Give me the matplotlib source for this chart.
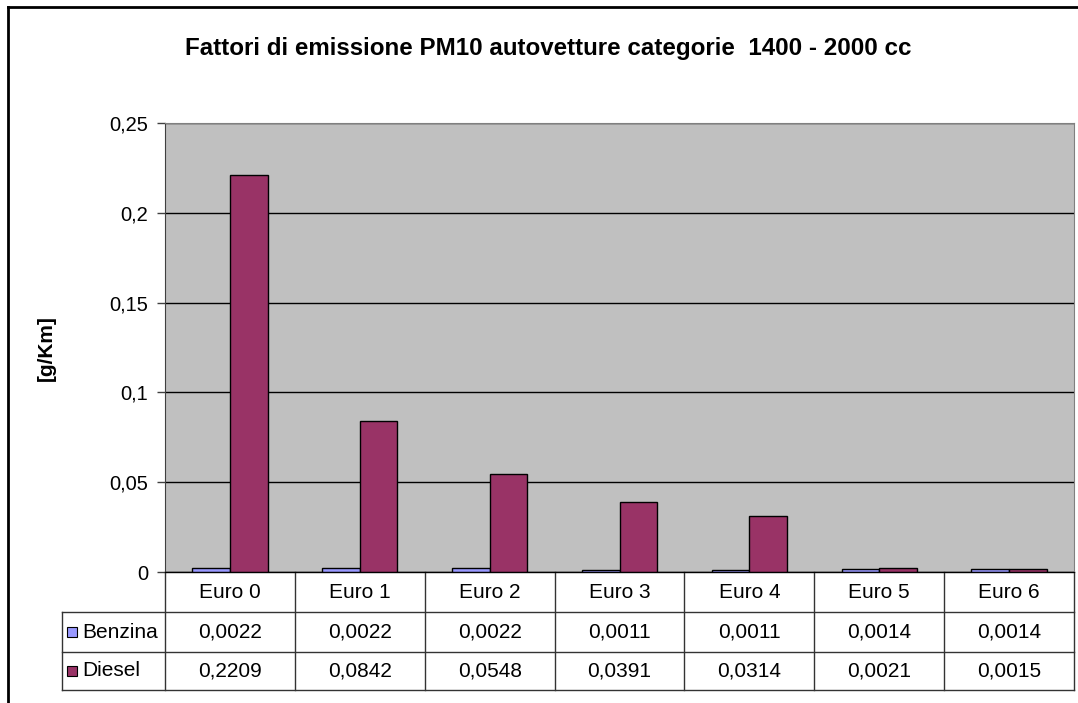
import matplotlib.pyplot as plt
from matplotlib.lines import Line2D
from matplotlib.patches import Rectangle
import matplotlib.transforms as mtransforms
import numpy as np

# dati del grafico
categorie = ["Euro 0", "Euro 1", "Euro 2", "Euro 3", "Euro 4", "Euro 5", "Euro 6"]
serie = ["Benzina", "Diesel"]
benzina = [0.0022, 0.0022, 0.0022, 0.0011, 0.0011, 0.0014, 0.0014]
diesel = [0.2209, 0.0842, 0.0548, 0.0391, 0.0314, 0.0021, 0.0015]
colori = ["#9999FF", "#993366"]
tick_y = [0, 0.05, 0.1, 0.15, 0.2, 0.25]


def virgola(v, dec):
    return (("%." + str(dec) + "f") % v).replace(".", ",")


plt.rcParams['font.family'] = ['Liberation Sans', 'DejaVu Sans']

W, H = 1078, 703
fig = plt.figure(figsize=(W / 100, H / 100), dpi=100)
ax = fig.add_axes([165 / W, 1 - 572 / H, (1074 - 165) / W, (572 - 123) / H])
ax.set_facecolor("#C0C0C0")

x = np.arange(len(categorie))
larg = 0.29
ax.bar(x - larg / 2, benzina, larg, color=colori[0], edgecolor="black", linewidth=1, zorder=3)
ax.bar(x + larg / 2, diesel, larg, color=colori[1], edgecolor="black", linewidth=1, zorder=3)

ax.set_xlim(-0.5, len(categorie) - 0.5)
ax.set_ylim(0, 0.25)
ax.set_yticks(tick_y)
ax.set_yticklabels([("0" if v == 0 else ("%g" % v).replace(".", ",")) for v in tick_y], fontsize=14.5)
ax.tick_params(axis="y", length=6, width=1, color="#404040", pad=6)
ax.set_xticks([])
ax.yaxis.grid(True, color="black", linewidth=1, zorder=1)
for s in ["top", "right"]:
    ax.spines[s].set_color("#808080")
ax.spines["left"].set_color("#404040")
ax.spines["bottom"].set_color("black")
ax.spines["bottom"].set_zorder(4)

# tabella dati sotto il grafico
trans = mtransforms.blended_transform_factory(ax.transData, ax.transAxes)
hpx = 572 - 123
riga = 40 / hpx
x_sin = -0.5 - 103 / 130
x_des = len(categorie) - 0.5
col_linea = "#333333"
y0 = 0
y1 = -riga
y2 = -2 * riga
y3 = -(690 - 572) / hpx
# linee orizzontali
ax.add_line(Line2D([-0.5, x_des], [y0, y0], transform=trans, color=col_linea, lw=1, clip_on=False))
for yy in [y1, y2, y3]:
    ax.add_line(Line2D([x_sin, x_des], [yy, yy], transform=trans, color=col_linea, lw=1, clip_on=False))
# linee verticali
ax.add_line(Line2D([x_sin, x_sin], [y1, y3], transform=trans, color=col_linea, lw=1, clip_on=False))
for i in range(len(categorie) + 1):
    xx = i - 0.5
    ax.add_line(Line2D([xx, xx], [y0, y3], transform=trans, color=col_linea, lw=1, clip_on=False))

fs_tab = 15
for i, c in enumerate(categorie):
    ax.text(i, (y0 + y1) / 2, c, transform=trans, ha="center", va="center", fontsize=fs_tab)
    ax.text(i, (y1 + y2) / 2, virgola(benzina[i], 4), transform=trans,
            ha="center", va="center", fontsize=fs_tab)
    ax.text(i, (y2 + y3) / 2, virgola(diesel[i], 4), transform=trans,
            ha="center", va="center", fontsize=fs_tab)

for k, (nome, yy) in enumerate(zip(serie, [(y1 + y2) / 2, (y2 + y3) / 2])):
    q = 10 / 130
    ax.add_patch(Rectangle((x_sin + 5 / 130, yy - 5 / hpx), q, 10 / hpx, transform=trans,
                           facecolor=colori[k], edgecolor="black", lw=0.8, clip_on=False))
    ax.text(x_sin + 20 / 130, yy, nome, transform=trans, ha="left", va="center", fontsize=fs_tab)

# titolo ed etichetta asse
fig.text(548 / W, 1 - 48 / H, "Fattori di emissione PM10 autovetture categorie  1400 - 2000 cc",
         ha="center", va="center", fontsize=17.4, fontweight="bold")
fig.text(46 / W, 1 - 348 / H, "[g/Km]", rotation=90, ha="center", va="center",
         fontsize=15, fontweight="bold")

# cornice esterna
fig.add_artist(Line2D([8 / W, 8 / W], [0, 1 - 7 / H], color="black", lw=2))
fig.add_artist(Line2D([8 / W, 1], [1 - 7 / H, 1 - 7 / H], color="black", lw=2))

fig.savefig("out.png", dpi=100)
